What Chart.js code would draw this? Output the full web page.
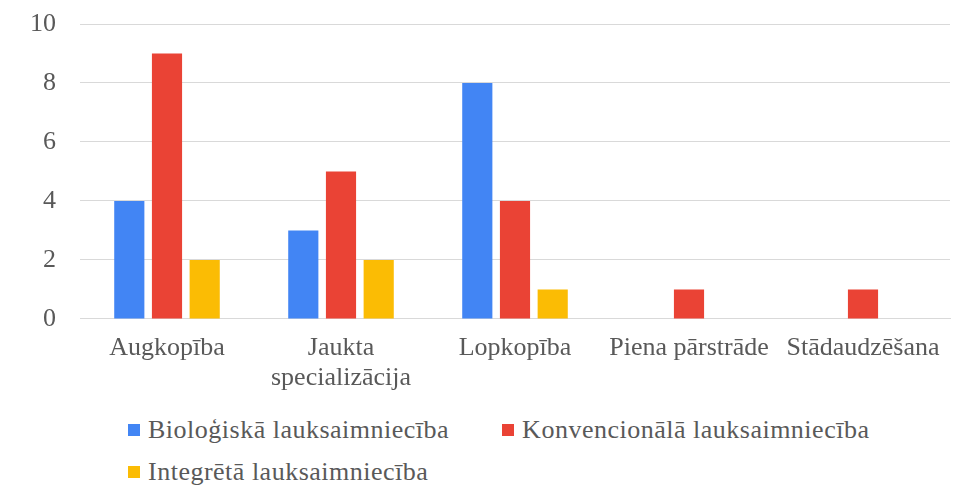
<!DOCTYPE html>
<html>
<head>
<meta charset="utf-8">
<script src="https://cdn.jsdelivr.net/npm/chart.js@4.4.1/dist/chart.umd.min.js"></script>
<style>
  html, body { margin: 0; padding: 0; background: #fff; }
  #wrap { width: 953px; height: 485px; position: relative; }
  #chartBox { width: 953px; height: 400px; position: relative; }
  #legend {
    display: flex; flex-wrap: wrap; column-gap: 53px;
    box-sizing: border-box; padding: 9px 0 0 128px; width: 900px;
    font-family: "Liberation Serif", "DejaVu Serif", serif;
    font-size: 26px; line-height: 42px; color: #595959; letter-spacing: 0.5px;
  }
  .item { display: flex; align-items: center; white-space: nowrap; }
  .box { width: 12px; height: 12px; margin-right: 8px; display: inline-block; }
</style>
</head>
<body>
<div id="wrap">
  <div id="chartBox"><canvas id="chart"></canvas></div>
  <div id="legend"></div>
</div>
<script>
const categories = ["Augkopība", ["Jaukta", "specializācija"], "Lopkopība", "Piena pārstrāde", "Stādaudzēšana"];
const seriesNames = ["Bioloģiskā lauksaimniecība", "Konvencionālā lauksaimniecība", "Integrētā lauksaimniecība"];
const biologiska = [4, 3, 8, 0, 0];
const konvencionala = [9, 5, 4, 1, 1];
const integreta = [2, 2, 1, 0, 0];
const colors = ["#4285F4", "#EA4335", "#FBBC04"];
const yTicks = [0, 2, 4, 6, 8, 10];

const FONT = "'Liberation Serif', 'DejaVu Serif', serif";
const TEXT = "#595959";

function buildChart() {
  const ctx = document.getElementById("chart").getContext("2d");
  const chart = new Chart(ctx, {
    type: "bar",
    data: {
      labels: categories,
      datasets: [biologiska, konvencionala, integreta].map((values, i) => ({
        label: seriesNames[i],
        data: values,
        backgroundColor: colors[i],
        categoryPercentage: 0.65,
        barPercentage: 0.8
      }))
    },
    options: {
      responsive: true,
      maintainAspectRatio: false,
      animation: false,
      layout: { padding: { top: 24, left: 26, right: 3, bottom: 1 } },
      plugins: {
        legend: { display: false },
        tooltip: { enabled: false }
      },
      scales: {
        x: {
          grid: { display: false },
          border: { display: true, color: "#d9d9d9" },
          ticks: {
            color: TEXT,
            font: { family: FONT, size: 26, lineHeight: 1.154 },
            padding: 6,
            maxRotation: 0,
            minRotation: 0,
            autoSkip: false
          }
        },
        y: {
          min: 0,
          max: 10,
          afterBuildTicks(axis) { axis.ticks = yTicks.map(v => ({ value: v })); },
          grid: { color: "#d9d9d9", drawTicks: true, tickLength: 20, tickColor: "rgba(0,0,0,0)" },
          border: { display: false },
          ticks: {
            color: TEXT,
            font: { family: FONT, size: 26 },
            padding: 4
          }
        }
      }
    }
  });

  // legend below the chart, rows start at the same left edge
  const legend = document.getElementById("legend");
  chart.data.datasets.forEach(ds => {
    const item = document.createElement("div");
    item.className = "item";
    const box = document.createElement("span");
    box.className = "box";
    box.style.background = ds.backgroundColor;
    const label = document.createElement("span");
    label.textContent = ds.label;
    item.appendChild(box);
    item.appendChild(label);
    legend.appendChild(item);
  });
}

// make sure the serif font is ready before the canvas measures text
document.fonts.load("26px 'Liberation Serif'", "Augkopība 10").then(buildChart, buildChart);
</script>
</body>
</html>
